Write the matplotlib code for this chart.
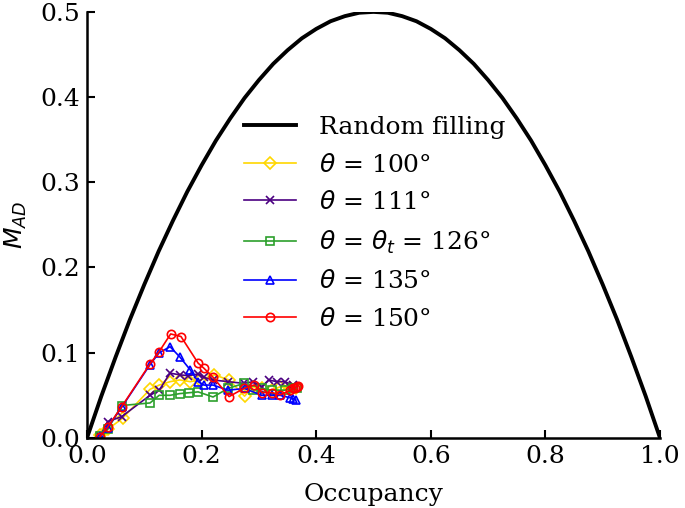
import matplotlib
matplotlib.use("Agg")
import matplotlib.pyplot as plt

plt.rcParams["font.family"] = "DejaVu Serif"
plt.rcParams["mathtext.fontset"] = "dejavusans"

# random filling reference curve
occ_random = [0.0, 0.025, 0.05, 0.075, 0.1, 0.125, 0.15, 0.175, 0.2, 0.225,
              0.25, 0.275, 0.3, 0.325, 0.35, 0.375, 0.4, 0.425, 0.45, 0.475,
              0.5, 0.525, 0.55, 0.575, 0.6, 0.625, 0.65, 0.675, 0.7, 0.725,
              0.75, 0.775, 0.8, 0.825, 0.85, 0.875, 0.9, 0.925, 0.95, 0.975, 1.0]
mad_random = [0.0, 0.049, 0.095, 0.139, 0.18, 0.219, 0.255, 0.289, 0.32, 0.349,
              0.375, 0.399, 0.42, 0.439, 0.455, 0.469, 0.48, 0.489, 0.495, 0.499,
              0.5, 0.499, 0.495, 0.489, 0.48, 0.469, 0.455, 0.439, 0.42, 0.399,
              0.375, 0.349, 0.32, 0.289, 0.255, 0.219, 0.18, 0.139, 0.095, 0.049, 0.0]

occ_100 = [0.0227, 0.036, 0.062, 0.110, 0.126, 0.145, 0.162, 0.180, 0.198,
           0.222, 0.248, 0.275, 0.29, 0.305, 0.322, 0.337, 0.355, 0.365]
mad_100 = [0.003, 0.010, 0.023, 0.057, 0.062, 0.066, 0.068, 0.066, 0.068,
           0.074, 0.068, 0.049, 0.060, 0.058, 0.056, 0.060, 0.058, 0.058]

occ_111 = [0.0227, 0.036, 0.0606, 0.110, 0.126, 0.145, 0.162, 0.177, 0.194,
           0.204, 0.220, 0.246, 0.274, 0.29, 0.305, 0.317, 0.331, 0.345, 0.36]
mad_111 = [0.002, 0.019, 0.025, 0.050, 0.056, 0.076, 0.074, 0.073, 0.075,
           0.071, 0.068, 0.066, 0.064, 0.066, 0.060, 0.068, 0.066, 0.066, 0.062]

occ_126 = [0.0227, 0.036, 0.0606, 0.110, 0.126, 0.145, 0.162, 0.178, 0.194,
           0.220, 0.246, 0.274, 0.29, 0.305, 0.322, 0.345, 0.36, 0.367]
mad_126 = [0.002, 0.010, 0.038, 0.041, 0.050, 0.050, 0.052, 0.053, 0.054,
           0.048, 0.058, 0.064, 0.056, 0.058, 0.056, 0.056, 0.058, 0.058]

occ_135 = [0.0227, 0.036, 0.0606, 0.110, 0.126, 0.145, 0.162, 0.180, 0.194,
           0.204, 0.220, 0.246, 0.275, 0.305, 0.322, 0.337, 0.355, 0.36, 0.364]
mad_135 = [0.002, 0.012, 0.036, 0.086, 0.100, 0.107, 0.095, 0.080, 0.066,
           0.062, 0.062, 0.056, 0.058, 0.050, 0.050, 0.050, 0.047, 0.046, 0.045]

occ_150 = [0.0227, 0.036, 0.0606, 0.110, 0.1257, 0.146, 0.164, 0.194, 0.204,
           0.220, 0.248, 0.2745, 0.292, 0.306, 0.322, 0.337, 0.355, 0.36,
           0.363, 0.366, 0.368]
mad_150 = [0.0015, 0.0126, 0.0367, 0.0869, 0.101, 0.122, 0.119, 0.0877, 0.0818,
           0.0712, 0.0485, 0.0583, 0.0622, 0.0532, 0.0532, 0.0505, 0.056, 0.058,
           0.059, 0.060, 0.061]

series = [
    (occ_100, mad_100, "gold", "D", r"$\theta$ = 100°"),
    (occ_111, mad_111, "indigo", "x", r"$\theta$ = 111°"),
    (occ_126, mad_126, "tab:green", "s", r"$\theta$ = $\theta_t$ = 126°"),
    (occ_135, mad_135, "blue", "^", r"$\theta$ = 135°"),
    (occ_150, mad_150, "red", "o", r"$\theta$ = 150°"),
]

fig = plt.figure(figsize=(6.85, 5.08), dpi=100)
ax = fig.add_axes([0.127, 0.138, 0.8365, 0.8386])

ax.plot(occ_random, mad_random, color="black", lw=2.8, label="Random filling")
for occ, mad, col, mk, lab in series:
    ms = 7 if mk == "D" else 8
    ax.plot(occ, mad, color=col, marker=mk, ms=ms, mfc="none", mew=1.2,
            lw=1.2, label=lab)

ax.set_xlim(0, 1)
ax.set_ylim(0, 0.5)
ax.set_xticks([0, 0.2, 0.4, 0.6, 0.8, 1.0])
ax.set_yticks([0, 0.1, 0.2, 0.3, 0.4, 0.5])
ax.set_xlabel("Occupancy", fontsize=18, labelpad=11)
ax.set_ylabel(r"$M_{AD}$", fontsize=18, labelpad=8)
ax.tick_params(direction="in", length=6, width=1.5, labelsize=18, pad=5)
for side in ("top", "right"):
    ax.spines[side].set_visible(False)
for side in ("left", "bottom"):
    ax.spines[side].set_linewidth(1.8)

handles, labels = ax.get_legend_handles_labels()
for h in handles[1:]:
    h.set_markersize(6)
leg = ax.legend(handles, labels, loc="upper left", bbox_to_anchor=(0.234, 0.808),
                frameon=False, fontsize=18, handlelength=2.1,
                handletextpad=0.9, labelspacing=0.58)

fig.savefig("out.png", dpi=100)
